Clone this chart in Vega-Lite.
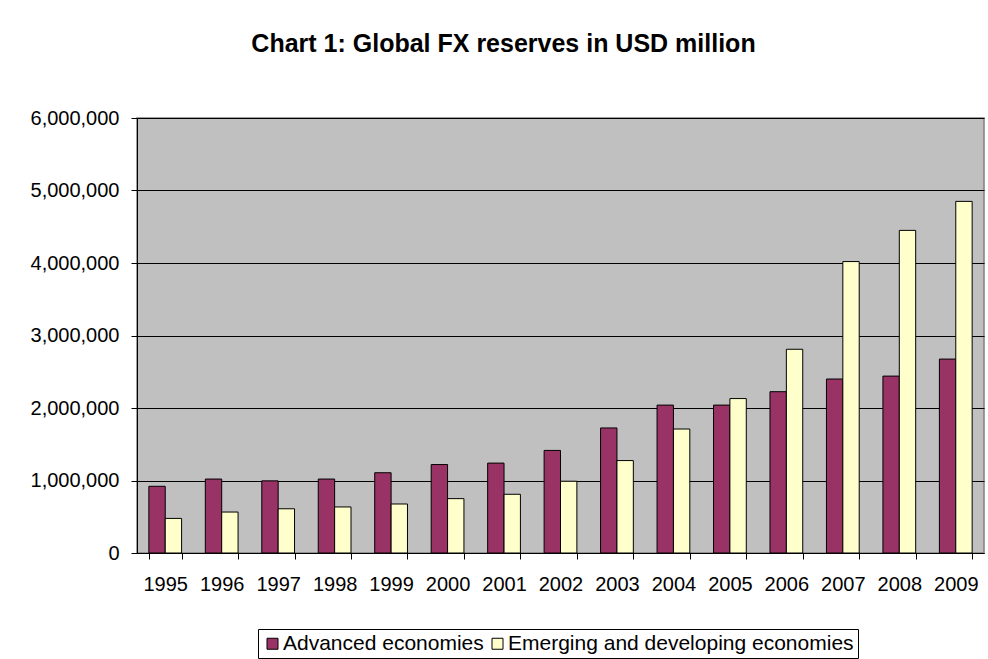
{
  "$schema": "https://vega.github.io/schema/vega-lite/v6.json",
  "width": 847,
  "height": 435,
  "autosize": {"type": "none"},
  "padding": {"left": 137, "top": 118, "right": 4, "bottom": 106},
  "background": "white",
  "title": {
    "text": "Chart 1: Global FX reserves in USD million",
    "font": "Liberation Sans",
    "fontSize": 25,
    "fontWeight": "bold",
    "color": "#000000",
    "anchor": "middle",
    "frame": "group",
    "dx": -57,
    "baseline": "alphabetic",
    "offset": 31
  },
  "data": {
    "values": [
      {"year": "1995", "series": "Advanced economies", "value": 920000},
      {"year": "1996", "series": "Advanced economies", "value": 1020000},
      {"year": "1997", "series": "Advanced economies", "value": 995000},
      {"year": "1998", "series": "Advanced economies", "value": 1020000},
      {"year": "1999", "series": "Advanced economies", "value": 1107000},
      {"year": "2000", "series": "Advanced economies", "value": 1220000},
      {"year": "2001", "series": "Advanced economies", "value": 1240000},
      {"year": "2002", "series": "Advanced economies", "value": 1415000},
      {"year": "2003", "series": "Advanced economies", "value": 1725000},
      {"year": "2004", "series": "Advanced economies", "value": 2040000},
      {"year": "2005", "series": "Advanced economies", "value": 2040000},
      {"year": "2006", "series": "Advanced economies", "value": 2225000},
      {"year": "2007", "series": "Advanced economies", "value": 2400000},
      {"year": "2008", "series": "Advanced economies", "value": 2440000},
      {"year": "2009", "series": "Advanced economies", "value": 2675000},
      {"year": "1995", "series": "Emerging and developing economies", "value": 477000},
      {"year": "1996", "series": "Emerging and developing economies", "value": 565000},
      {"year": "1997", "series": "Emerging and developing economies", "value": 610000},
      {"year": "1998", "series": "Emerging and developing economies", "value": 635000},
      {"year": "1999", "series": "Emerging and developing economies", "value": 676000},
      {"year": "2000", "series": "Emerging and developing economies", "value": 750000},
      {"year": "2001", "series": "Emerging and developing economies", "value": 810000},
      {"year": "2002", "series": "Emerging and developing economies", "value": 990000},
      {"year": "2003", "series": "Emerging and developing economies", "value": 1275000},
      {"year": "2004", "series": "Emerging and developing economies", "value": 1710000},
      {"year": "2005", "series": "Emerging and developing economies", "value": 2130000},
      {"year": "2006", "series": "Emerging and developing economies", "value": 2810000},
      {"year": "2007", "series": "Emerging and developing economies", "value": 4020000},
      {"year": "2008", "series": "Emerging and developing economies", "value": 4450000},
      {"year": "2009", "series": "Emerging and developing economies", "value": 4850000}
    ]
  },
  "mark": {"type": "bar", "stroke": "#000000", "strokeWidth": 1},
  "encoding": {
    "x": {
      "field": "year",
      "type": "nominal",
      "scale": {"paddingInner": 0.42, "paddingOuter": 0.21},
      "axis": {
        "title": null,
        "labelAngle": 0,
        "labelFont": "Liberation Sans",
        "labelFontSize": 20,
        "labelColor": "#000000",
        "labelPadding": 15,
        "tickBand": "extent",
        "tickSize": 6,
        "tickColor": "#000000",
        "domainColor": "#000000",
        "grid": false
      }
    },
    "xOffset": {
      "field": "series",
      "type": "nominal",
      "sort": ["Advanced economies", "Emerging and developing economies"],
      "scale": {"paddingInner": 0, "paddingOuter": 0}
    },
    "y": {
      "field": "value",
      "type": "quantitative",
      "scale": {"domain": [0, 6000000], "nice": false},
      "axis": {
        "title": null,
        "values": [0, 1000000, 2000000, 3000000, 4000000, 5000000, 6000000],
        "format": ",.0f",
        "labelFont": "Liberation Sans",
        "labelFontSize": 20,
        "labelColor": "#000000",
        "labelPadding": 12,
        "tickSize": 6,
        "tickColor": "#000000",
        "domainColor": "#000000",
        "grid": true,
        "gridColor": "#000000",
        "gridWidth": 1
      }
    },
    "color": {
      "field": "series",
      "type": "nominal",
      "scale": {
        "domain": ["Advanced economies", "Emerging and developing economies"],
        "range": ["#993366", "#FFFFCC"]
      },
      "legend": {
        "title": null,
        "orient": "none",
        "direction": "horizontal",
        "legendX": 121,
        "legendY": 511,
        "padding": 4,
        "strokeColor": "#000000",
        "fillColor": "#FFFFFF",
        "symbolType": "square",
        "symbolSize": 121,
        "symbolStrokeColor": "#000000",
        "symbolStrokeWidth": 1,
        "symbolOpacity": 1,
        "labelFont": "Liberation Sans",
        "labelFontSize": 21,
        "labelColor": "#000000",
        "labelOffset": 0,
        "columnPadding": 3,
        "labelLimit": 500
      }
    }
  },
  "config": {
    "view": {"fill": "#C0C0C0", "stroke": "#808080", "strokeWidth": 1.5}
  }
}
